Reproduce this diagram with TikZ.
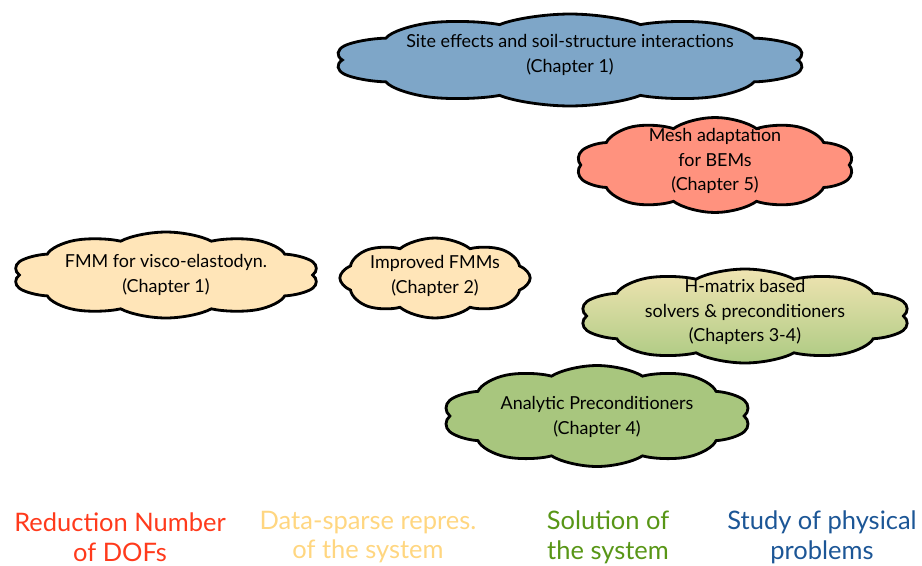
\documentclass[tikz,border=0pt]{standalone}
\usepackage{fontspec}
\setmainfont{Lato}
\usetikzlibrary{
  shapes.symbols,
}
\definecolor{siteblue}{RGB}{126,166,200}
\definecolor{meshred}{RGB}{255,146,126}
\definecolor{fmmcream}{RGB}{255,229,184}
\definecolor{solvgreen}{RGB}{168,198,126}
\definecolor{hmattop}{RGB}{240,228,178}
\definecolor{hmatbot}{RGB}{172,202,130}
\definecolor{dofred}{RGB}{255,58,28}
\definecolor{sparseyellow}{RGB}{255,214,128}
\definecolor{solgreen}{RGB}{88,150,22}
\definecolor{physblue}{RGB}{28,86,150}
\tikzset{
  bubble/.style={cloud, cloud puffs=10, cloud puff arc=110, cloud ignores aspect,
    draw=black, line width=1.6pt, inner sep=0pt, transform shape},
  caption/.style={align=center, font=\fontsize{10.2}{14}\selectfont},
  topic/.style={align=center, font=\fontsize{14.5}{17}\selectfont},
}

\begin{document}
\begin{tikzpicture}[x=0.02cm, y=-0.02cm]
      \useasboundingbox (0,0) rectangle (922,565);
      \node [bubble, fill=siteblue, minimum width=2.75cm, minimum height=1.84cm, xscale=3.45] (site) at (570,60) {};
      \node [caption] (sitetext) at (570,55) {
        Site effects and soil-structure interactions \\ (Chapter 1)
      };
      \node [bubble, fill=meshred, minimum width=2.88cm, minimum height=1.9cm, xscale=1.94] (mesh) at (715,165) {};
      \node [caption] (meshtext) at (715,161) {
        Mesh adaptation \\ for BEMs \\ (Chapter 5)
      };
      \node [bubble, fill=fmmcream, minimum width=2.4cm, minimum height=1.72cm, xscale=2.57] (fmm) at (166,275) {};
      \node [caption] (fmmtext) at (166,275) {
        FMM for visco-elastodyn. \\ (Chapter 1)
      };
      \node [bubble, fill=fmmcream, cloud puffs=8, minimum width=2.24cm, minimum height=1.6cm, xscale=1.7] (ifmm) at (435,278) {};
      \node [caption] (ifmmtext) at (435,276) {
        Improved FMMs \\ (Chapter 2)
      };
      \node [bubble, top color=hmattop, bottom color=hmatbot, minimum width=2.66cm, minimum height=1.88cm, xscale=2.5] (hmat) at (745,316) {};
      \node [caption] (hmattext) at (745,312) {
        H-matrix based \\ solvers \& preconditioners \\ (Chapters 3-4)
      };
      \node [bubble, fill=solvgreen, minimum width=2.78cm, minimum height=2.02cm, xscale=2.23] (precond) at (597,416) {};
      \node [caption] (precondtext) at (597,417) {
        Analytic Preconditioners \\ (Chapter 4)
      };
      \node [topic, text=dofred] (dofs) at (120,537) {Reduction Number \\ of DOFs};
      \node [topic, text=sparseyellow] (sparse) at (368,537) {Data-sparse repres. \\ of the system};
      \node [topic, text=solgreen] (solve) at (608,537) {Solution of \\ the system};
      \node [topic, text=physblue] (phys) at (822,537) {Study of physical \\ problems};
    \end{tikzpicture}
\end{document}
